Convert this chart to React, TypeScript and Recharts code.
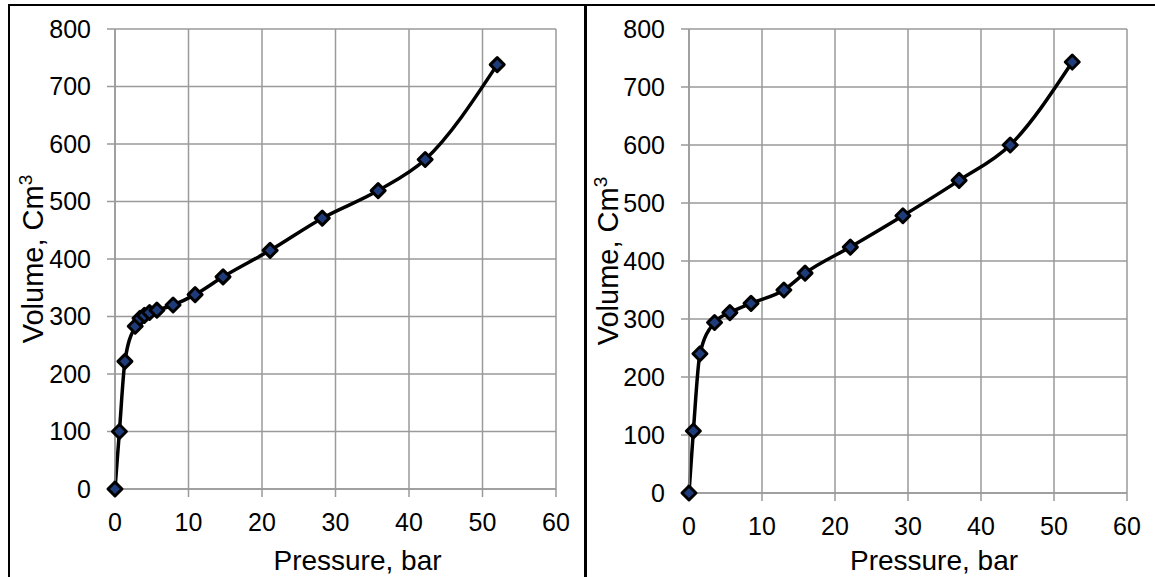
import React from "react";
import { LineChart, Line, XAxis, YAxis, CartesianGrid, Label } from "recharts";

// pressure (bar) and volume (cm3)
const leftPressure = [0, 0.6, 1.35, 2.75, 3.4, 4.0, 4.7, 5.7, 7.9, 10.9, 14.7, 21.1, 28.2, 35.8, 42.2, 52.0];
const leftVolume = [0, 100, 222, 283, 297, 302, 307, 311, 320, 338, 369, 415, 471, 519, 573, 738];

const rightPressure = [0, 0.6, 1.5, 3.5, 5.6, 8.5, 13, 15.9, 22.1, 29.3, 37, 44, 52.5];
const rightVolume = [0, 107, 240, 294, 311, 327, 350, 379, 424, 478, 539, 600, 743];

const xTicks = [0, 10, 20, 30, 40, 50, 60];
const yTicks = [0, 100, 200, 300, 400, 500, 600, 700, 800];

const xTitle = "Pressure, bar";
const yTitle = "Volume, Cm";
const yTitleSup = "3";

const GRID = "#9a9a9a";
const MARKER = "#1f3c7a";

const toRows = (p: number[], v: number[]) => p.map((x, i) => ({ p: x, v: v[i] }));

const Diamond = (props: any) => {
    const { cx, cy } = props;
    if (cx == null || cy == null) return null;
    const r = 7;
    return (
        <path
            key={props.key}
            d={`M${cx},${cy - r}L${cx + r},${cy}L${cx},${cy + r}L${cx - r},${cy}Z`}
            fill={MARKER}
            stroke="#000"
            strokeWidth={3}
            strokeLinejoin="round"
        />
    );
};

interface PanelProps {
    data: { p: number; v: number }[];
    left: number;
    width: number;
    yAxisWidth: number;
    marginRight: number;
    xAxisHeight: number;
    yTitleX: number;
    xTitleShift: number;
}

function Panel({ data, left, width, yAxisWidth, marginRight, xAxisHeight, yTitleX, xTitleShift }: PanelProps) {
    return (
        <div style={{ position: "absolute", left, top: 0 }}>
            <LineChart width={width} height={577} data={data} margin={{ top: 29, right: marginRight, bottom: 0, left: 0 }}>
                <CartesianGrid stroke={GRID} strokeWidth={1.5} />
                <XAxis
                    type="number"
                    dataKey="p"
                    domain={[0, 60]}
                    ticks={xTicks}
                    height={xAxisHeight}
                    stroke={GRID}
                    strokeWidth={1.5}
                    tickSize={8}
                    tickMargin={16}
                    tick={{ fill: "#000", fontSize: 25 }}
                >
                    <Label
                        content={({ viewBox }: any) => (
                            <text
                                x={viewBox.x + viewBox.width / 2 + xTitleShift}
                                y={570}
                                textAnchor="middle"
                                fontSize={28}
                                fill="#000"
                            >
                                {xTitle}
                            </text>
                        )}
                    />
                </XAxis>
                <YAxis
                    type="number"
                    dataKey="v"
                    domain={[0, 800]}
                    ticks={yTicks}
                    width={yAxisWidth}
                    stroke={GRID}
                    strokeWidth={1.5}
                    tickSize={8}
                    tickMargin={16}
                    tick={{ fill: "#000", fontSize: 25 }}
                >
                    <Label
                        content={({ viewBox }: any) => (
                            <text
                                transform={`translate(${yTitleX}, ${viewBox.y + viewBox.height / 2}) rotate(-90)`}
                                textAnchor="middle"
                                fontSize={29}
                                fill="#000"
                            >
                                {yTitle}
                                <tspan dy={-11} fontSize={19}>
                                    {yTitleSup}
                                </tspan>
                            </text>
                        )}
                    />
                </YAxis>
                <Line
                    type="monotone"
                    dataKey="v"
                    stroke="#000"
                    strokeWidth={3.5}
                    dot={Diamond}
                    activeDot={false}
                    isAnimationActive={false}
                />
            </LineChart>
        </div>
    );
}

export default function App() {
    return (
        <div
            style={{
                position: "absolute",
                left: 0,
                top: 0,
                width: 1155,
                height: 577,
                background: "#fff",
                overflow: "hidden",
                fontFamily: "'Liberation Sans', Arial, sans-serif",
            }}
        >
            <Panel
                data={toRows(leftPressure, leftVolume)}
                left={0}
                width={585}
                yAxisWidth={115}
                marginRight={29}
                xAxisHeight={88}
                yTitleX={43}
                xTitleShift={22}
            />
            <Panel
                data={toRows(rightPressure, rightVolume)}
                left={585}
                width={570}
                yAxisWidth={104}
                marginRight={28}
                xAxisHeight={84}
                yTitleX={33}
                xTitleShift={26}
            />

            {/* table frame lines */}
            <div style={{ position: "absolute", left: 8, top: 4, width: 1147, height: 2, background: "#000" }} />
            <div style={{ position: "absolute", left: 8, top: 4, width: 2, height: 573, background: "#000" }} />
            <div style={{ position: "absolute", left: 584, top: 4, width: 3, height: 573, background: "#000" }} />
        </div>
    );
}
